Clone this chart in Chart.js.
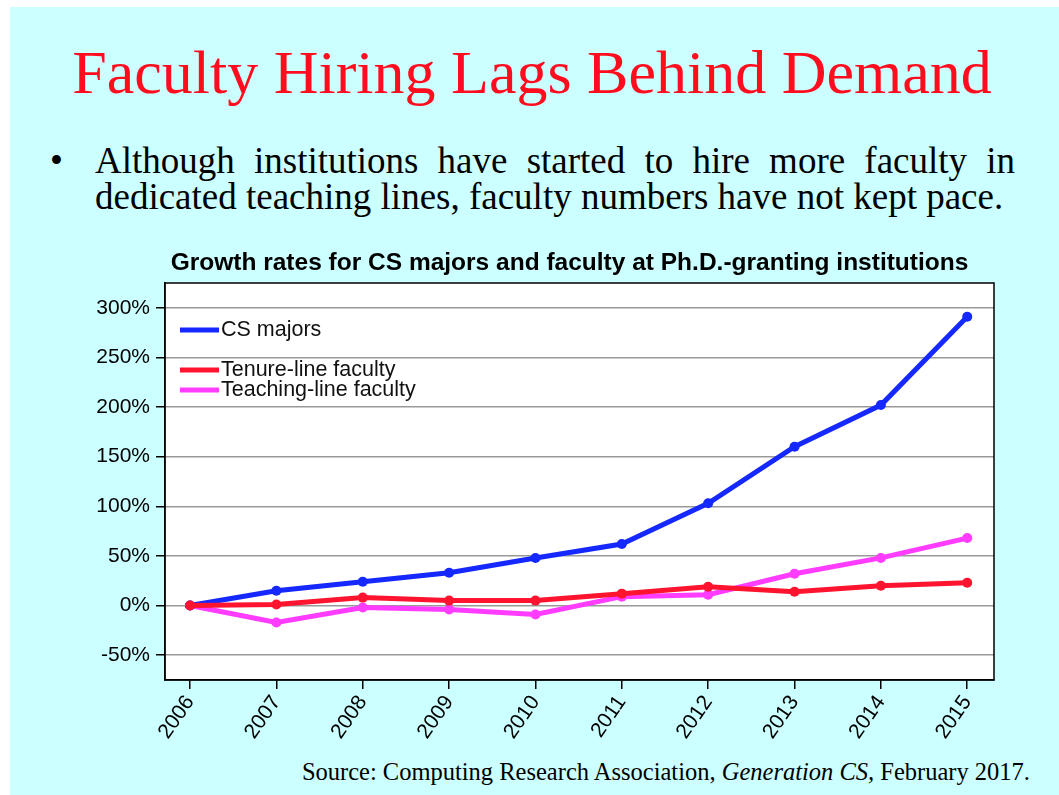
<!DOCTYPE html>
<html>
<head>
<meta charset="utf-8">
<script src="https://cdn.jsdelivr.net/npm/chart.js@4/dist/chart.umd.min.js"></script>
<style>
  html, body { margin:0; padding:0; background:#ffffff; width:1059px; height:795px; overflow:hidden; }
  #slide { position:absolute; left:10px; top:7px; right:0; bottom:0; background:#ccffff; }
  #chart { position:absolute; left:0; top:0; }
  .t { position:absolute; font-family:"Liberation Serif","Times New Roman",serif; color:#000; white-space:nowrap; }
  #title { left:0; width:1064px; text-align:center; top:41px; font-size:62px; line-height:62px; color:#ff0d1e; }
  #bul { left:50px; top:142px; font-size:37px; line-height:37px; }
  #l1 { left:95px; width:920px; top:142px; font-size:37px; line-height:37px; text-align:justify; text-align-last:justify; }
  #l2 { left:95px; top:178px; font-size:37px; line-height:37px; }
  #src { right:29px; top:760px; font-size:24.5px; line-height:24.5px; }
</style>
</head>
<body>
<div id="slide"></div>
<div class="t" id="title">Faculty Hiring Lags Behind Demand</div>
<div class="t" id="bul">•</div>
<div class="t" id="l1">Although institutions have started to hire more faculty in</div>
<div class="t" id="l2">dedicated teaching lines, faculty numbers have not kept pace.</div>
<div class="t" id="src">Source: Computing Research Association, <i>Generation CS,</i> February 2017.</div>
<canvas id="chart" width="1059" height="795"></canvas>
<script>
const years = [2006, 2007, 2008, 2009, 2010, 2011, 2012, 2013, 2014, 2015];
const csMajors = [0, 15, 24, 33, 48, 62, 103, 160, 202, 291];
const tenureLine = [0, 1, 8, 5, 5, 12, 19, 14, 20, 23];
const teachingLine = [0, -17, -2, -4, -9, 9, 11, 32, 48, 68];
const yTicks = [-50, 0, 50, 100, 150, 200, 250, 300];
const seriesNames = ['CS majors', 'Tenure-line faculty', 'Teaching-line faculty'];
const chartTitle = 'Growth rates for CS majors and faculty at Ph.D.-granting institutions';

const FONT = '"Liberation Sans", Arial, Helvetica, sans-serif';
const pts = arr => years.map((y, i) => ({ x: y, y: arr[i] }));

const plotFrame = {
  id: 'plotFrame',
  beforeDraw(chart) {
    const a = chart.chartArea, c = chart.ctx;
    c.save(); c.fillStyle = '#ffffff'; c.fillRect(a.left, a.top, a.right - a.left, a.bottom - a.top); c.restore();
  },
  afterDraw(chart) {
    const a = chart.chartArea, c = chart.ctx;
    c.save(); c.strokeStyle = '#000'; c.lineWidth = 1.5;
    c.strokeRect(a.left, a.top, a.right - a.left, a.bottom - a.top);
    // chart title, centred slightly left of the plot centre
    c.font = 'bold 24.5px ' + FONT; c.fillStyle = '#000'; c.textAlign = 'center'; c.textBaseline = 'middle';
    c.fillText(chartTitle, (a.left + a.right) / 2 - 10, a.top - 20);
    c.restore();
  }
};

const legendRows = [47, 87, 107];
const insideLegend = {
  id: 'insideLegend',
  afterDraw(chart) {
    const a = chart.chartArea, c = chart.ctx;
    c.save();
    c.font = '21.5px ' + FONT; c.textBaseline = 'middle'; c.fillStyle = '#111';
    chart.data.datasets.forEach((ds, i) => {
      const y = a.top + legendRows[i];
      c.strokeStyle = ds.borderColor; c.lineWidth = 5; c.lineCap = 'butt';
      c.beginPath(); c.moveTo(a.left + 15, y); c.lineTo(a.left + 54, y); c.stroke();
      c.fillText(ds.label, a.left + 56, y);
    });
    c.restore();
  }
};

const mk = (label, data, color, order) => ({
  label, data: pts(data), borderColor: color, backgroundColor: color,
  borderWidth: 5, pointRadius: 5, pointBorderWidth: 0, pointBackgroundColor: color,
  tension: 0, order
});

new Chart(document.getElementById('chart'), {
  type: 'line',
  data: {
    datasets: [
      mk(seriesNames[0], csMajors, '#1428ff', 1),
      mk(seriesNames[1], tenureLine, '#ff1430', 0),
      mk(seriesNames[2], teachingLine, '#ff3cff', 2)
    ]
  },
  options: {
    responsive: false, animation: false, devicePixelRatio: 1,
    layout: { padding: { left: 60, right: 65, top: 283, bottom: 45 } },
    plugins: {
      legend: { display: false }, tooltip: { enabled: false }, title: { display: false }
    },
    scales: {
      x: {
        type: 'linear', min: 2005.71, max: 2015.31,
        afterBuildTicks: s => { s.ticks = years.map(v => ({ value: v })); },
        afterFit: s => { s.height = 70; },
        ticks: { color: '#000', font: { family: FONT, size: 21 }, minRotation: 55, maxRotation: 55,
          autoSkip: false, padding: 2, callback: v => String(v) },
        grid: { drawOnChartArea: false, tickLength: 9, color: '#000', lineWidth: 1.5 },
        border: { color: '#000', width: 1.5 }
      },
      y: {
        type: 'linear', min: -75, max: 325,
        afterBuildTicks: s => { s.ticks = yTicks.map(v => ({ value: v })); },
        afterFit: s => { s.width = 105; },
        ticks: { color: '#000', font: { family: FONT, size: 21 }, padding: 6, callback: v => v + '%' },
        grid: { color: '#999', lineWidth: 1.5, tickColor: '#000', tickLength: 9 },
        border: { color: '#000', width: 1.5 }
      }
    }
  },
  plugins: [plotFrame, insideLegend]
});
</script>
</body>
</html>
